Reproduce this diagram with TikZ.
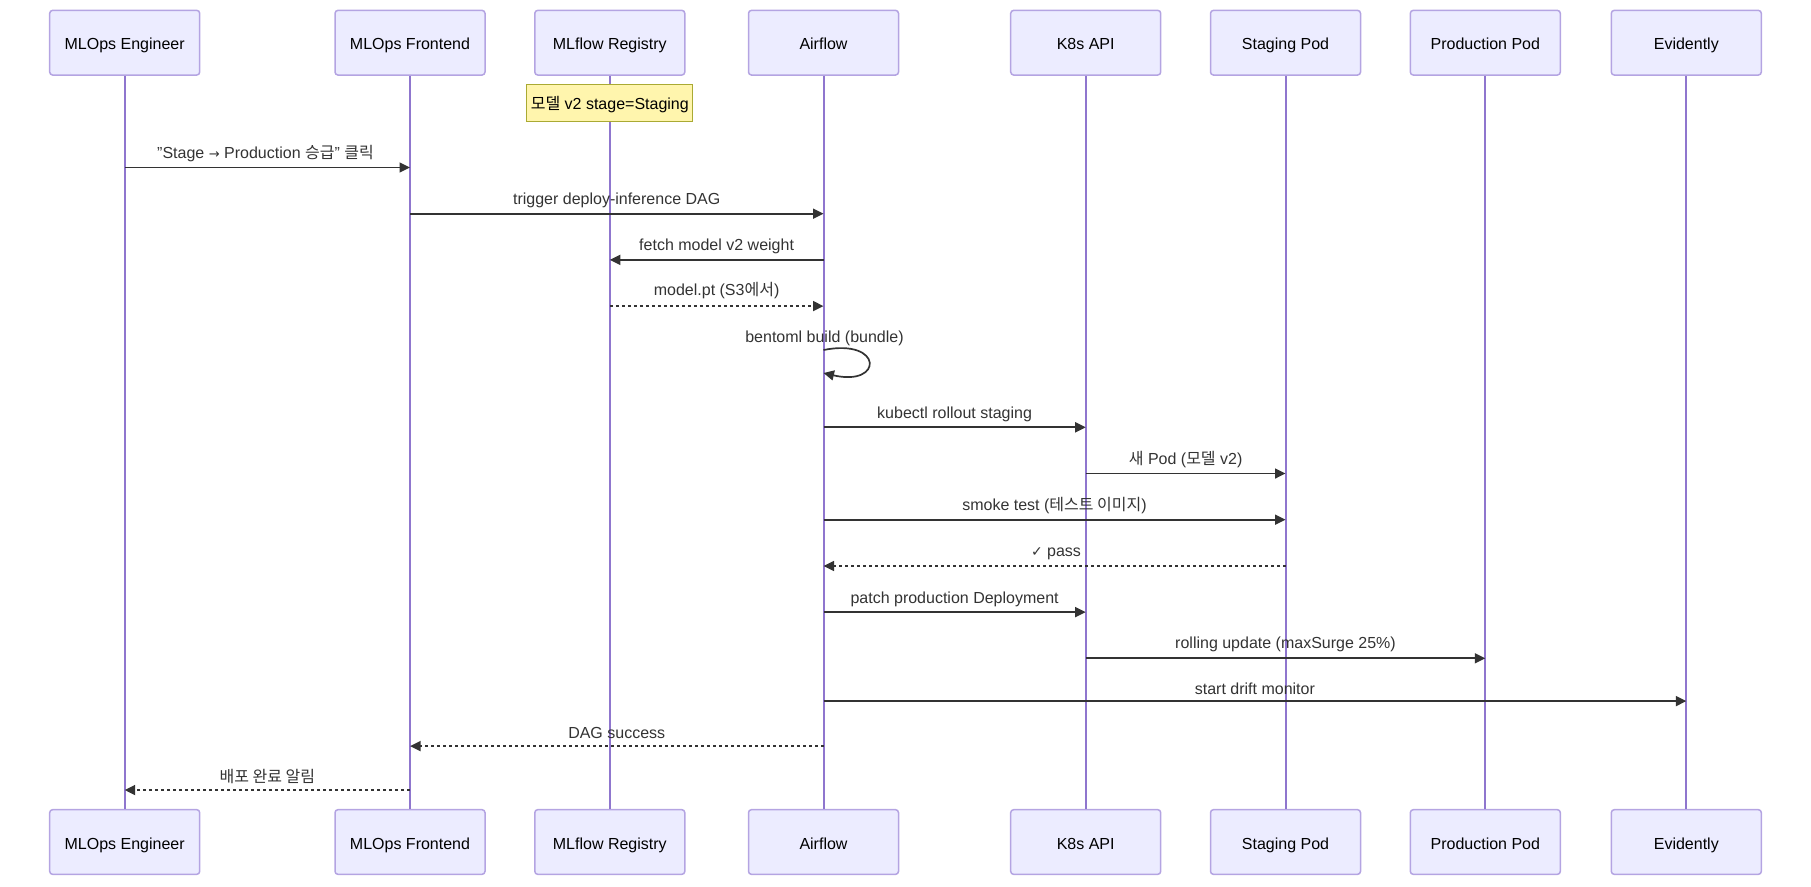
\documentclass[tikz,border=0pt]{standalone}
\usepackage{fontspec}
\setmainfont{Liberation Sans}
\newfontfamily\krf{Noto Sans CJK KR}
\newfontfamily\djvf{DejaVu Sans}
\usetikzlibrary{arrows.meta}
\definecolor{actfill}{HTML}{ECECFF}
\definecolor{actborder}{HTML}{B4A4E2}
\definecolor{actline}{HTML}{8F76CE}
\definecolor{msgc}{HTML}{333333}
\definecolor{notefill}{HTML}{FFF5AD}
\definecolor{noteline}{HTML}{AAAA33}
\begin{document}
\begin{tikzpicture}[x=1pt,y=-1pt,
 actor/.style={draw=actborder, fill=actfill, line width=1.5pt, rounded corners=3pt, minimum width=150pt, minimum height=64.7pt, inner sep=0pt, font=\fontsize{16}{19}\selectfont, text=black, text height=14pt, text depth=0pt},
 life/.style={draw=actline, line width=2pt},
 msg/.style={draw=msgc, line width=1.7pt, -{Triangle[length=10.5pt,width=10pt]}},
 reply/.style={msg, dash pattern=on 3pt off 3pt},
 lbl/.style={font=\fontsize{16}{19}\selectfont, text=msgc, inner sep=0pt, text height=14pt, text depth=0pt},
 notebox/.style={draw=noteline, fill=notefill, line width=1pt, minimum width=166pt, minimum height=37pt, inner sep=0pt, font=\fontsize{16}{19}\selectfont, text=black, text height=14pt, text depth=0pt}]
\useasboundingbox (0,0) rectangle (1811,886);
% actors top
\node[actor] (eT) at (124.7,42.7) {MLOps Engineer};
\node[actor] (fT) at (410.0,42.7) {MLOps Frontend};
\node[actor] (rT) at (609.8,42.7) {MLflow Registry};
\node[actor] (aT) at (823.5,42.7) {Airflow};
\node[actor] (kT) at (1085.7,42.7) {K8s API};
\node[actor] (sT) at (1285.5,42.7) {Staging Pod};
\node[actor] (pT) at (1485.3,42.7) {Production Pod};
\node[actor] (vT) at (1686.3,42.7) {Evidently};
% actors bottom
\node[actor] (eB) at (124.7,842) {MLOps Engineer};
\node[actor] (fB) at (410.0,842) {MLOps Frontend};
\node[actor] (rB) at (609.8,842) {MLflow Registry};
\node[actor] (aB) at (823.5,842) {Airflow};
\node[actor] (kB) at (1085.7,842) {K8s API};
\node[actor] (sB) at (1285.5,842) {Staging Pod};
\node[actor] (pB) at (1485.3,842) {Production Pod};
\node[actor] (vB) at (1686.3,842) {Evidently};
% lifelines
\foreach \t/\b in {eT/eB,fT/fB,rT/rB,aT/aB,kT/kB,sT/sB,pT/pB,vT/vB}
  \draw[life] (\t.south) -- (\b.north);
% note
\node[notebox] (note) at (609.8,102.8) {{\krf 모델} v2 stage=Staging};
% messages
\draw[msg] (eT |- 0,167.5) -- (fT |- 0,167.5);
\node[lbl] (l1) at (265.5,151.3) {\symbol{34}Stage {\djvf\fontsize{13}{16}\selectfont →} Production {\krf 승급}\symbol{34} {\krf 클릭}};
\draw[msg] (fT |- 0,213.7) -- (aT |- 0,213.7);
\node[lbl] (l2) at (616.7,197.5) {trigger deploy-inference DAG};
\draw[msg] (aT |- 0,259.9) -- (rT |- 0,259.9);
\node[lbl] (l3) at (716.6,243.7) {fetch model v2 weight};
\draw[reply] (rT |- 0,306.1) -- (aT |- 0,306.1);
\node[lbl] (l4) at (716.6,288.8) {model.pt (S3{\krf 에서})};
\draw[msg] (aT |- 0,350) .. controls +(60,-12) and +(60,14) .. (aT |- 0,373);
\node[lbl] (l5) at (824.5,335) {bentoml build (bundle)};
\draw[msg] (aT |- 0,427.3) -- (kT |- 0,427.3);
\node[lbl] (l6) at (954.6,411.2) {kubectl rollout staging};
\draw[msg] (kT |- 0,473.5) -- (sT |- 0,473.5);
\node[lbl] (l7) at (1185.6,457.4) {{\krf 새} Pod ({\krf 모델} v2)};
\draw[msg] (aT |- 0,519.7) -- (sT |- 0,519.7);
\node[lbl] (l8) at (1054.5,503.6) {smoke test ({\krf 테스트 이미지})};
\draw[reply] (sT |- 0,566) -- (aT |- 0,566);
\node[lbl] (l9) at (1056,549.8) {{\djvf\fontsize{14}{17}\selectfont ✓} pass};
\draw[msg] (aT |- 0,612.1) -- (kT |- 0,612.1);
\node[lbl] (l10) at (954.6,596) {patch production Deployment};
\draw[msg] (kT |- 0,658.3) -- (pT |- 0,658.3);
\node[lbl] (l11) at (1285.5,641) {rolling update (maxSurge 25\%)};
\draw[msg] (aT |- 0,701.1) -- (vT |- 0,701.1);
\node[lbl] (l12) at (1254.9,687.2) {start drift monitor};
\draw[reply] (aT |- 0,746.1) -- (fT |- 0,746.1);
\node[lbl] (l13) at (616.7,731.1) {DAG success};
\draw[reply] (fT |- 0,790) -- (eT |- 0,790);
\node[lbl] (l14) at (267.3,775) {{\krf 배포 완료 알림}};
\end{tikzpicture}
\end{document}
